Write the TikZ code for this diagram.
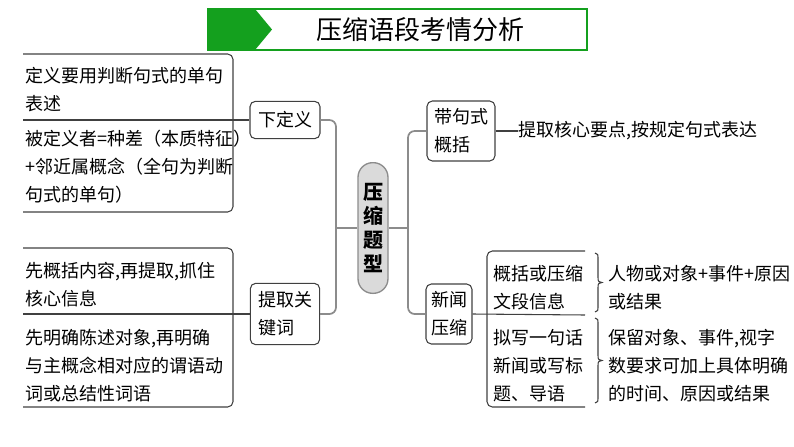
\documentclass[tikz,border=0pt]{standalone}
\usepackage{fontspec}
\setmainfont{Noto Sans CJK SC}
\usetikzlibrary{positioning}
\definecolor{titlegreen}{HTML}{14A01E}
\definecolor{linkgray}{HTML}{8C8C8C}
\definecolor{coregray}{HTML}{DADADA}
\definecolor{boxline}{HTML}{404040}
% right-pointing brace: x, top, bottom
\newcommand{\sidebrace}[3]{%
  \draw[boxline, line width=0.8pt] (#1,#2) .. controls (#1+3,#2) and (#1+3,#2+2) .. (#1+3,#2+6)
    -- (#1+3,{(#2+#3)/2-5}) .. controls (#1+3,{(#2+#3)/2-1}) and (#1+4,{(#2+#3)/2}) .. (#1+7,{(#2+#3)/2})
    .. controls (#1+4,{(#2+#3)/2}) and (#1+3,{(#2+#3)/2+1}) .. (#1+3,{(#2+#3)/2+5})
    -- (#1+3,#3-6) .. controls (#1+3,#3-2) and (#1+3,#3) .. (#1,#3);}

\begin{document}
\begin{tikzpicture}[x=0.75pt,y=-0.75pt,
    every node/.style={font=\fontsize{13.5}{21}\selectfont},
    txt/.style={anchor=north west, inner sep=0pt, align=left},
    topic/.style={draw=boxline, line width=0.8pt, rounded corners=4pt, align=left, inner sep=0pt},
    frame/.style={draw=boxline, line width=0.8pt, rounded corners=4pt},
    link/.style={draw=linkgray, line width=1.3pt, rounded corners=5pt}]
        \useasboundingbox (0,0) rectangle (794,447);
        % Title banner
        \draw[titlegreen, line width=0.8pt] (208,9) rectangle (587,50);
        \fill[titlegreen] (208,9) -- (255,9) -- (272,29.5) -- (255,50) -- (208,50) -- cycle;
        \node[font=\fontsize{19.5}{24}\selectfont] (title) at (420,30) {压缩语段考情分析};
        % Core
        \node[draw=linkgray, fill=coregray, line width=1pt, rounded corners=11pt,
              minimum width=22.5pt, minimum height=98pt, inner sep=0pt, align=center,
              font=\fontsize{15}{18}\selectfont\bfseries] (core) at (373,228) {压\\缩\\题\\型};
        % Left topics
        \node[topic, minimum width=52.5pt, minimum height=28pt] (def) at (285,120) {下定义};
        \node[topic, minimum width=52pt, minimum height=46pt] (kw) at (285,314) {提取关\\键词};
        \coordinate (jL) at (336,228);
        \draw[link] (def.east) -| (jL) |- (kw.east);
        \draw[link] (jL) -- (core.west);
        % Right topics
        \node[topic, minimum width=51pt, minimum height=45pt] (band) at (461,131) {带句式\\概括};
        \node[topic, minimum width=34.5pt, minimum height=45pt] (news) at (449,314) {新闻\\压缩};
        \coordinate (jR) at (408,228);
        \draw[link] (core.east) -- (jR);
        \draw[link] (band.west) -| (jR) |- (news.west);
        \node[anchor=west, inner sep=0pt] (tip) at (518,131) {提取核心要点,按规定句式表达};
        \draw[boxline, line width=0.8pt] (band.east) -- (tip.west);
        % Left boxes
        \draw[frame] (23,54) -| (233,212) -- (23,212);
        \coordinate (dL) at (23,120);
        \draw[boxline, line width=0.8pt] (dL) -- (def.west);
        \node[txt] (dA) at (25,67) {定义要用判断句式的单句\\表述};
        \node[txt] (dB) at (25,130) {被定义者=种差（本质特征）\\+邻近属概念（全句为判断\\句式的单句）};
        \draw[frame] (23,248) -| (233,407) -- (23,407);
        \coordinate (kL) at (23,314);
        \draw[boxline, line width=0.8pt] (kL) -- (kw.west);
        \node[txt] (kA) at (25,262) {先概括内容,再提取,抓住\\核心信息};
        \node[txt] (kB) at (25,329) {先明确陈述对象,再明确\\与主概念相对应的谓语动\\词或总结性词语};
        % Right box
        \draw[frame] (585,251) -| (487,407) -- (585,407);
        \coordinate (nR) at (585,315);
        \draw[boxline, line width=0.8pt] (news.east) -- (nR);
        \node[txt] (nA) at (493,265) {概括或压缩\\文段信息};
        \node[txt] (nB) at (493,329) {拟写一句话\\新闻或写标\\题、导语};
        \sidebrace{595}{253}{312}
        \sidebrace{595}{318}{403}
        \node[txt] (rA) at (608,265) {人物或对象+事件+原因\\或结果};
        \node[txt] (rB) at (608,329) {保留对象、事件,视字\\数要求可加上具体明确\\的时间、原因或结果};
\end{tikzpicture}
\end{document}
